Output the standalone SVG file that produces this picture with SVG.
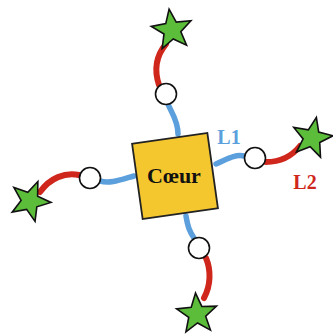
<svg xmlns="http://www.w3.org/2000/svg" width="333" height="336" viewBox="0 0 333 336">
<style>
.l1{fill:none;stroke:#5b9fdc;stroke-width:5.5;stroke-linecap:round}
.l2{fill:none;stroke:#d0271d;stroke-width:6;stroke-linecap:round}
.node{fill:#fff;stroke:#111;stroke-width:1.6}
.star{fill:#5cbd3a;stroke:#111;stroke-width:1.6;stroke-linejoin:miter}
.lbl{font-family:"Liberation Serif",serif;font-weight:bold;font-size:20px}
</style>
<defs>
<path id="star" d="M0,-21 L5.3,-7.2 L20,-6.5 L8.5,2.8 L12.3,17 L0,9 L-12.3,17 L-8.5,2.8 L-20,-6.5 L-5.3,-7.2 Z"/>
</defs>
<rect width="333" height="336" fill="#fff"/>
<g id="connectors">
<path class="l1" d="M178,134 C178,120 171,112 168,104"/>
<path class="l2" d="M159,85 C154,70 156,56 166,44"/>
<path class="l1" d="M216,164 C226,160 234,154 244,156"/>
<path class="l2" d="M266,162 C280,162 292,156 300,146"/>
<path class="l1" d="M134,176 C120,180 110,184 100,181"/>
<path class="l2" d="M79,175 C65,172 50,178 40,192"/>
<path class="l1" d="M186,216 C188,228 190,232 194,238"/>
<path class="l2" d="M206,258 C211,270 211,285 204,298"/>
</g>
<g id="coeur">
<rect x="137" y="138" width="76" height="76" transform="rotate(-8 175 176)" fill="#f5c72f" stroke="#222" stroke-width="1.8"/>
<text x="174" y="183" text-anchor="middle" font-family="Liberation Serif,serif" font-weight="bold" font-size="22" fill="#111">Cœur</text>
</g>
<g id="node-top"><circle class="node" cx="166" cy="94" r="10.5"/></g>
<g id="node-right"><circle class="node" cx="255" cy="158" r="10.5"/></g>
<g id="node-left"><circle class="node" cx="90" cy="178" r="10.5"/></g>
<g id="node-bottom"><circle class="node" cx="199" cy="248" r="10.5"/></g>
<g id="star-top"><use href="#star" class="star" transform="translate(172,30) rotate(-8)"/></g>
<g id="star-right"><use href="#star" class="star" transform="translate(312,138) rotate(12)"/></g>
<g id="star-left"><use href="#star" class="star" transform="translate(30,201) rotate(22)"/></g>
<g id="star-bottom"><use href="#star" class="star" transform="translate(197,314) rotate(-4)"/></g>
<g id="labels">
<text class="lbl" x="229" y="144" text-anchor="middle" fill="#5b9fdc">L1</text>
<text class="lbl" x="305" y="189" text-anchor="middle" fill="#d0271d">L2</text>
</g>
</svg>
